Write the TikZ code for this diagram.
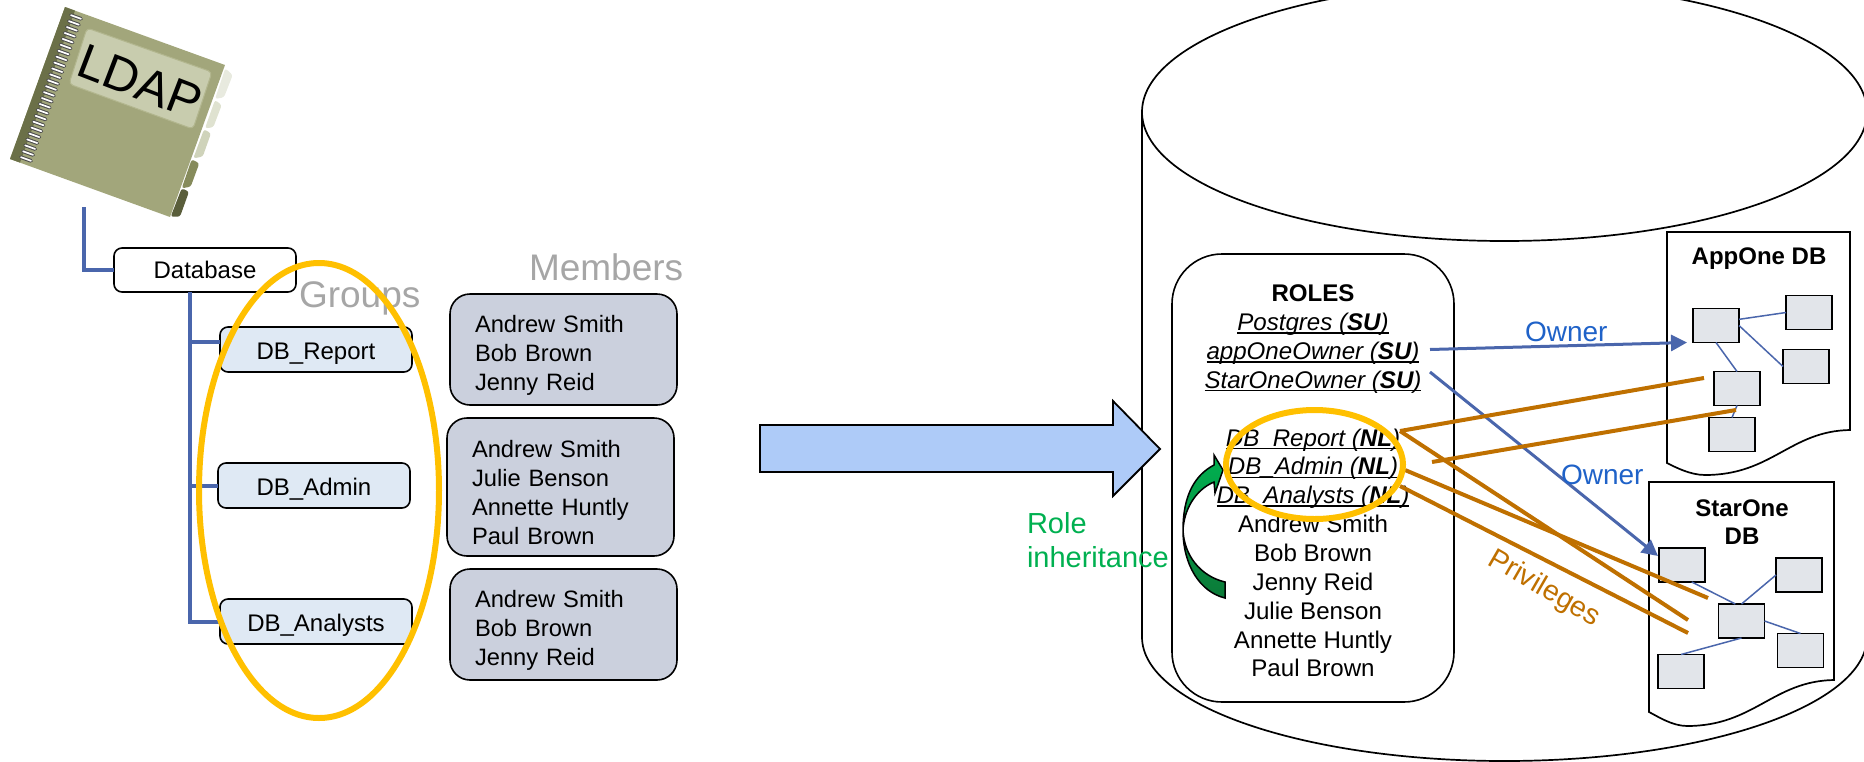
\documentclass[tikz,border=0pt]{standalone}
\usepackage{fontspec}
\setmainfont{Liberation Sans}
\usetikzlibrary{arrows.meta,shapes.geometric}
\definecolor{linkblue}{HTML}{4A66AC}
\definecolor{ownerblue}{HTML}{1F62C8}
\definecolor{ringyellow}{HTML}{FFC000}
\definecolor{privorange}{HTML}{BF7000}
\definecolor{rolegreen}{HTML}{00B050}
\definecolor{darkgreen}{HTML}{0B7A38}
\definecolor{groupfill}{HTML}{DFE9F4}
\definecolor{memberfill}{HTML}{CBD0DD}
\definecolor{tablefill}{HTML}{E2E5EA}
\definecolor{bigarrow}{HTML}{AECBF8}
\definecolor{headgrey}{HTML}{A6A6A6}
\definecolor{cover}{HTML}{A2A67B}
\definecolor{spine}{HTML}{6B7048}
\definecolor{plate}{HTML}{C8CCAE}
\definecolor{plateedge}{HTML}{B2B68E}
\newcommand{\fs}[1]{\fontsize{#1}{#1}\selectfont}
\newsavebox\ulbox
\newcommand{\ulx}[1]{\sbox\ulbox{#1}\rlap{\rule[-3pt]{\wd\ulbox}{1.4pt}}\usebox\ulbox}
\newcommand{\rle}[2]{\ulx{\textit{#1 (\textbf{#2})}}}
\tikzset{
  x=1pt,y=-1pt,
  every node/.style={inner sep=0pt,outer sep=0pt},
  grpbase/.style={draw=black,line width=1.6pt,rounded corners=8pt,minimum width=192pt,minimum height=45pt,font=\fs{24},text height=24pt,text depth=5pt},
  dbbox/.style={grpbase,fill=white,minimum width=182pt,minimum height=44pt,text height=22pt,text depth=5.5pt},
  grpbox/.style={grpbase,fill=groupfill},
  memberbox/.style={draw=black,line width=1.6pt,rounded corners=20pt,fill=memberfill,minimum width=227pt},
  membertext/.style={text width=177pt,align=left,font=\fontsize{23.7}{29}\selectfont},
  tbl/.style={draw=black,line width=1.6pt,fill=tablefill,minimum width=46pt,minimum height=34pt},
  tree/.style={draw=linkblue,line width=4pt},
  tlink/.style={draw=linkblue,line width=1.5pt},
  owner/.style={draw=linkblue,line width=3pt,-{Triangle[length=16pt,width=16pt]}},
  priv/.style={draw=privorange,line width=4pt},
  ring/.style={draw=ringyellow,line width=6pt,ellipse},
  cyl/.style={draw=black,line width=1.7pt},
  doc/.style={draw=black,line width=1.7pt,fill=white},
  greyhead/.style={text=headgrey,font=\fs{37},anchor=base west},
  bluetext/.style={text=ownerblue,font=\fs{28},anchor=base west},
}
\begin{document}
\begin{tikzpicture}
\useasboundingbox (0,0) rectangle (1864,761);
\clip (0,0) rectangle (1864,761);
% notebook tabs
\begin{scope}[rounded corners=2.5pt]
\fill[color={rgb,255:red,232;green,234;blue,223}] (225.3,68.3)--(232.7,75)--(224,97.3)--(215,99)--cycle;
\fill[color={rgb,255:red,223;green,226;blue,208}] (215,100)--(221.7,105)--(213.3,127.3)--(205,128.3)--cycle;
\fill[color={rgb,255:red,207;green,211;blue,186}] (204,129.3)--(211,133.3)--(202.7,156.7)--(193.3,158.3)--cycle;
\fill[color={rgb,255:red,134;green,139;blue,91}] (191.7,159.3)--(199.3,163.3)--(190.7,186.7)--(181.7,188.3)--cycle;
\fill[color={rgb,255:red,90;green,94;blue,59}] (181.7,188.3)--(189,191.7)--(180,216.7)--(170.7,216.7)--cycle;
\end{scope}
% notebook cover
\fill[cover] (65,7)--(225,65)--(170,217)--(10,159)--cycle;
\fill[spine] (65,7)--(75,10.6)--(20,162.6)--(10,159)--cycle;
\foreach \i in {0,...,24}{
  \pgfmathsetmacro{\rx}{76-\i*50/24}
  \pgfmathsetmacro{\ry}{17+\i*142/24}
  \draw[line cap=round,line width=3.8pt,color=black!70] (\rx-5,\ry-1.8)--(\rx+5,\ry+1.8);
  \draw[line cap=round,line width=1.7pt,color=white] (\rx-5,\ry-1.8)--(\rx+5,\ry+1.8);
}
\draw[fill=plate,draw=plateedge,line width=1pt,rounded corners=4pt] (87,28)--(212,72)--(193,129)--(69,84)--cycle;
\node[rotate=-21,font=\fs{49}] (ldap) at (140,82) {LDAP};
% left tree
\node[dbbox] (db) at (205,270) {Database};
\node[grpbox] (report) at (316,349.5) {DB\_Report};
\node[grpbox] (admin) at (314,485.5) {DB\_Admin};
\node[grpbox] (analysts) at (316,621.5) {DB\_Analysts};
\coordinate (ldapfoot) at (84,207);
\coordinate (trunk) at (190,292);
\coordinate (trunkr) at (190,342);
\draw[tree] (ldapfoot) |- (db.west);
\draw[tree] (trunk) |- (analysts.west);
\draw[tree] (trunkr) -- (report.west |- trunkr);
\draw[tree] (trunk |- admin.west) -- (admin.west);
\node[greyhead] (groups) at (299,307) {Groups};
\node[greyhead] (members) at (529,280) {Members};
\node[memberbox,minimum height=111pt] (m1) at (563.5,349.5) {};
\node[membertext] (m1t) at (563.5,355.5) {Andrew Smith\\Bob Brown\\Jenny Reid};
\node[memberbox,minimum height=138pt] (m2) at (560.5,487) {};
\node[membertext] (m2t) at (560.5,493) {Andrew Smith\\Julie Benson\\Annette Huntly\\Paul Brown};
\node[memberbox,minimum height=111pt] (m3) at (563.5,624.5) {};
\node[membertext] (m3t) at (563.5,630.5) {Andrew Smith\\Bob Brown\\Jenny Reid};
\node[ring,minimum width=240pt,minimum height=455pt] (groupring) at (319,490.5) {};
% cylinder
\draw[cyl] (1142,637) -- (1142,112);
\draw[cyl] (1504.5,112) ellipse [x radius=362.5,y radius=129];
\draw[cyl] (1142,637) arc [start angle=180,end angle=0,x radius=362.5,y radius=124];
% big arrow
\draw[fill=bigarrow,draw=black,line width=1.8pt,line join=miter] (760,425)--(1113,425)--(1113,401)--(1160,449)--(1113,496)--(1113,472)--(760,472)--cycle;
% roles
\node[draw=black,line width=1.6pt,rounded corners=50pt,minimum width=282pt,minimum height=448pt] (roles) at (1313,478) {};
\node[anchor=north,align=center,font=\fontsize{24.1}{28.85}\selectfont] (rolestext) at (1313,285) {\textbf{ROLES}\\
\rle{Postgres}{SU}\\ \rle{appOneOwner}{SU}\\ \rle{StarOneOwner}{SU}\\ \mbox{}\\
\rle{DB\_Report}{NL}\\ \rle{DB\_Admin}{NL}\\ \rle{DB\_Analysts}{NL}\\
Andrew Smith\\ Bob Brown\\ Jenny Reid\\ Julie Benson\\ Annette Huntly\\ Paul Brown};
% inheritance arrow
\shadedraw[top color=rolegreen,middle color=rolegreen,bottom color=darkgreen,draw=black,line width=1.5pt] (1223,470)--(1214,455)--(1214,465) .. controls (1195,475) and (1183,495) .. (1183,530) .. controls (1183,565) and (1200,592) .. (1225,598) -- (1225,582) .. controls (1200,576) and (1184,555) .. (1183,530) .. controls (1184,510) and (1195,490) .. (1214,482) -- (1215,493) -- cycle;
\node[text=rolegreen,font=\fs{29},anchor=base west] (rolelbl) at (1027,533) {Role};
\node[text=rolegreen,font=\fs{29},anchor=base west] (inherit) at (1027,567) {inheritance};
% AppOne document
\draw[doc] (1667,232) -- (1850,232) -- (1850,430) .. controls (1790,431) and (1772,475) .. (1705,475) .. controls (1690,475) and (1675,467) .. (1667,463) -- cycle;
\node[font=\bfseries\fs{24},anchor=base] (apptitle) at (1759,264) {AppOne DB};
\node[tbl] (a1) at (1716,325.5) {};
\node[tbl] (a2) at (1809,312.5) {};
\node[tbl] (a3) at (1806,366.5) {};
\node[tbl] (a4) at (1737,388.5) {};
\node[tbl] (a5) at (1732,434.5) {};
\draw[tlink] (a1.15) -- (a2.west);
\draw[tlink] (a1.east) -- (a3.west);
\draw[tlink] (a1.south) -- (a4.north);
\draw[tlink] (a4.south) -- (a5.north);
% StarOne document
\draw[doc] (1649,482) -- (1834,482) -- (1834,680) .. controls (1773,681) and (1754,726) .. (1687,726) .. controls (1672,726) and (1657,716) .. (1649,712) -- cycle;
\node[font=\bfseries\fs{24},anchor=base] (startitle) at (1742,516) {StarOne};
\node[font=\bfseries\fs{24},anchor=base] (startitleb) at (1742,544) {DB};
\node[tbl] (s1) at (1682,565) {};
\node[tbl] (s2) at (1799,575) {};
\node[tbl] (s3) at (1741.5,621) {};
\node[tbl] (s4) at (1800.5,650.5) {};
\node[tbl] (s5) at (1681,671.5) {};
\draw[tlink] (s1.-60) -- (s3.110);
\draw[tlink] (s3.north) -- (s2.west);
\draw[tlink] (s3.east) -- (s4.north);
\draw[tlink] (s3.south) -- (s5.north);
% owner arrows
\coordinate (o1a) at (1430,349.5);
\coordinate (o1b) at (1687,342.5);
\coordinate (o2a) at (1430,372);
\coordinate (o2b) at (1658,556);
\draw[owner] (o1a) -- (o1b);
\draw[owner] (o2a) -- (o2b);
\node[bluetext] (own1) at (1525,341) {Owner};
\node[bluetext] (own2) at (1561,484) {Owner};
% privileges
\coordinate (p1) at (1400,431);
\coordinate (p2) at (1704,378);
\coordinate (p3) at (1432,462);
\coordinate (p4) at (1736,410);
\coordinate (p5) at (1688,620);
\coordinate (p6) at (1405,470);
\coordinate (p7) at (1708,598);
\coordinate (p8) at (1400,486);
\coordinate (p9) at (1688,633);
\draw[priv] (p1) -- (p2);
\draw[priv] (p3) -- (p4);
\draw[priv] (p1) -- (p5);
\draw[priv] (p6) -- (p7);
\draw[priv] (p8) -- (p9);
\node[text=privorange,font=\fs{28.6},rotate=-30] (privl) at (1544,589) {Privileges};
\node[ring,minimum width=177pt,minimum height=109pt] (rolering) at (1314.5,464.5) {};
\end{tikzpicture}
\end{document}
